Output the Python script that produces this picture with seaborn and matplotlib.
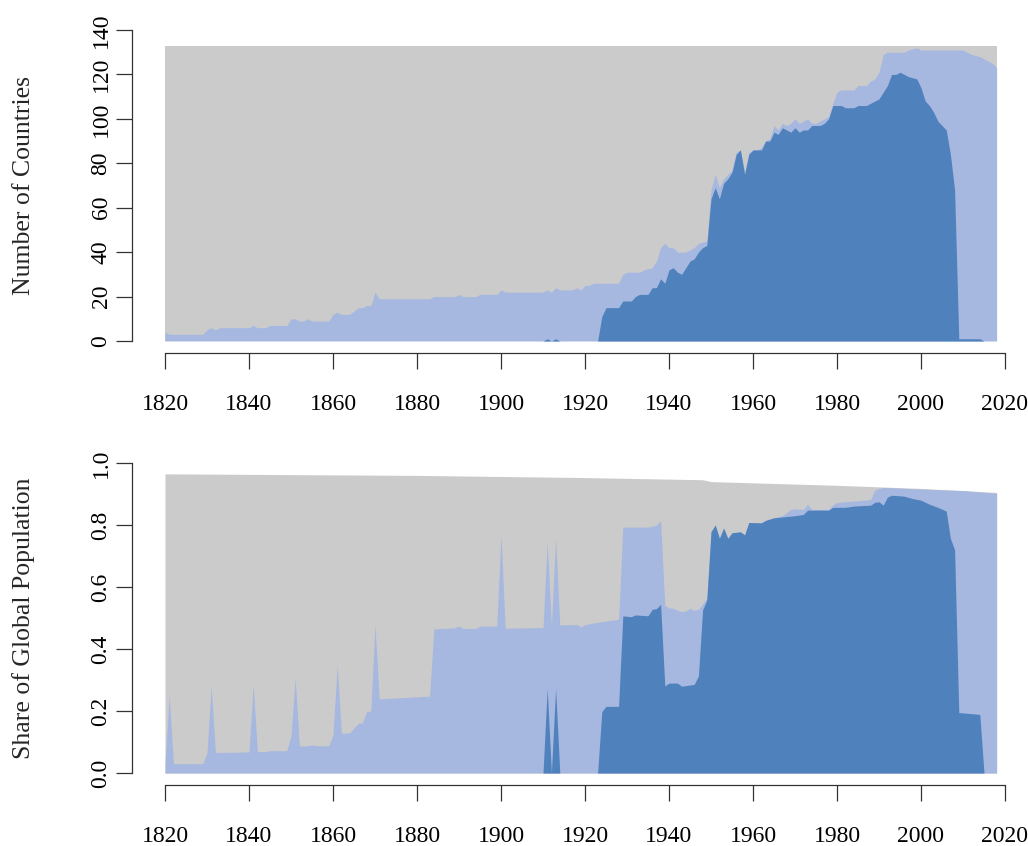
import matplotlib
matplotlib.use("Agg")
import matplotlib.pyplot as plt
import seaborn as sns

# ---- Top panel: number of countries ----
count_total_years = [1820, 2018]
count_total = [133, 133]

count_light_years = [1820, 1821, 1829, 1830, 1831, 1832, 1833, 1840, 1841, 1842, 1844, 1845, 1849,
                     1850, 1851, 1852, 1853, 1854, 1855, 1859, 1860, 1861, 1862, 1864, 1866, 1867,
                     1868, 1869, 1870, 1871, 1883, 1884, 1889, 1890, 1891, 1894, 1895, 1899, 1900,
                     1901, 1910, 1911, 1912, 1913, 1914, 1917, 1918, 1919, 1920, 1921, 1922, 1928,
                     1929, 1930, 1933, 1934, 1936, 1937, 1938, 1939, 1940, 1941, 1942, 1944, 1945,
                     1946, 1947, 1949, 1950, 1951, 1952, 1953, 1954, 1955, 1956, 1957, 1958, 1959,
                     1960, 1961, 1962, 1963, 1964, 1965, 1966, 1967, 1968, 1969, 1970, 1971, 1972,
                     1973, 1974, 1975, 1976, 1977, 1978, 1979, 1980, 1981, 1984, 1985, 1987, 1988,
                     1989, 1990, 1991, 1992, 1996, 1997, 1999, 2000, 2010, 2011, 2012, 2014, 2015,
                     2016, 2017, 2018]
count_light = [4, 3, 3, 5, 6, 5, 6, 6, 7, 6, 6, 7, 7,
               10, 10, 9, 9, 10, 9, 9, 12, 13, 12, 12, 15, 15,
               16, 16, 22, 19, 19, 20, 20, 21, 20, 20, 21, 21, 23,
               22, 22, 23, 22, 24, 23, 23, 24, 23, 25, 25, 26, 26,
               30, 31, 31, 32, 33, 36, 42, 44, 42, 42, 40, 40, 41,
               42, 44, 45, 68, 75, 69, 73, 75, 77, 85, 86, 76, 85,
               86, 86, 87, 90, 91, 97, 95, 98, 97, 98, 100, 98, 99,
               100, 98, 98, 99, 100, 101, 107, 112, 113, 113, 115, 115, 117,
               118, 121, 129, 130, 130, 131, 132, 131, 131, 130, 129, 128, 127,
               126, 125, 123]

count_dark_years = [1820, 1910, 1911, 1912, 1913, 1914, 1923, 1924, 1925, 1928, 1929, 1931, 1932,
                    1933, 1935, 1936, 1937, 1938, 1939, 1940, 1941, 1942, 1943, 1944, 1945, 1946,
                    1947, 1948, 1949, 1950, 1951, 1952, 1953, 1954, 1955, 1956, 1957, 1958, 1959,
                    1960, 1962, 1963, 1964, 1965, 1966, 1967, 1968, 1969, 1970, 1971, 1972, 1973,
                    1974, 1976, 1977, 1978, 1979, 1981, 1982, 1984, 1985, 1987, 1988, 1989, 1990,
                    1991, 1992, 1993, 1994, 1995, 1996, 1997, 1999, 2000, 2001, 2002, 2003, 2004,
                    2005, 2006, 2007, 2008, 2009, 2014, 2015, 2018]
count_dark = [0, 0, 1, 0, 1, 0, 0, 11, 15, 15, 18, 18, 20,
              21, 21, 24, 24, 28, 26, 32, 33, 31, 30, 33, 36, 37,
              40, 42, 43, 64, 69, 64, 71, 73, 76, 84, 86, 75, 84,
              86, 86, 90, 90, 94, 93, 96, 95, 94, 96, 94, 95, 95,
              97, 97, 98, 100, 106, 106, 105, 105, 106, 106, 107, 108, 109,
              112, 115, 120, 120, 121, 120, 119, 118, 114, 108, 106, 103, 99,
              97, 95, 84, 68, 1, 1, 0, 0]

# ---- Bottom panel: share of global population ----
share_total_years = [1820, 1880, 1920, 1948, 1950, 1980, 2000, 2018]
share_total = [0.965, 0.960, 0.953, 0.946, 0.940, 0.928, 0.918, 0.905]

share_light_years = [1820, 1821, 1822, 1829, 1830, 1831, 1832, 1840, 1841, 1842, 1844, 1845, 1849,
                     1850, 1851, 1852, 1854, 1855, 1856, 1859, 1860, 1861, 1862, 1864, 1866, 1867,
                     1868, 1869, 1870, 1871, 1883, 1884, 1889, 1890, 1891, 1894, 1895, 1899, 1900,
                     1901, 1910, 1911, 1912, 1913, 1914, 1917, 1918, 1919, 1920, 1922, 1923, 1928,
                     1929, 1935, 1936, 1937, 1938, 1939, 1940, 1941, 1942, 1943, 1944, 1945, 1946,
                     1947, 1948, 1949, 1950, 1951, 1952, 1953, 1954, 1955, 1957, 1958, 1959, 1962,
                     1963, 1965, 1967, 1969, 1970, 1972, 1973, 1974, 1978, 1979, 1980, 1985, 1988,
                     1989, 1990, 1991, 2000, 2010, 2018]
share_light = [0.03, 0.25, 0.03, 0.03, 0.066, 0.28, 0.066, 0.068, 0.283, 0.069, 0.069, 0.072, 0.072,
               0.12, 0.307, 0.087, 0.088, 0.091, 0.088, 0.088, 0.123, 0.348, 0.128, 0.13, 0.16, 0.162,
               0.198, 0.2, 0.477, 0.239, 0.248, 0.465, 0.468, 0.474, 0.466, 0.466, 0.474, 0.474, 0.768,
               0.467, 0.469, 0.746, 0.474, 0.76, 0.478, 0.478, 0.48, 0.471, 0.478, 0.484, 0.486, 0.496,
               0.793, 0.793, 0.796, 0.8, 0.814, 0.54, 0.533, 0.531, 0.525, 0.52, 0.523, 0.531, 0.525,
               0.528, 0.545, 0.565, 0.78, 0.8, 0.757, 0.79, 0.757, 0.775, 0.778, 0.768, 0.807, 0.807,
               0.815, 0.824, 0.83, 0.85, 0.852, 0.85, 0.867, 0.85, 0.85, 0.865, 0.873, 0.878, 0.882,
               0.913, 0.918, 0.921, 0.916, 0.911, 0.902]

share_dark_years = [1820, 1910, 1911, 1912, 1913, 1914, 1923, 1924, 1925, 1928, 1929, 1931, 1932,
                    1935, 1936, 1937, 1938, 1939, 1940, 1942, 1943, 1946, 1947, 1948, 1949, 1950,
                    1951, 1952, 1953, 1954, 1955, 1957, 1958, 1959, 1962, 1963, 1965, 1967, 1970,
                    1972, 1973, 1978, 1979, 1982, 1984, 1988, 1989, 1990, 1991, 1992, 1993, 1996,
                    1998, 2000, 2002, 2004, 2006, 2007, 2008, 2009, 2014, 2015, 2018]
share_dark = [0, 0, 0.273, 0, 0.273, 0, 0, 0.198, 0.215, 0.215, 0.507, 0.504, 0.51,
              0.507, 0.528, 0.53, 0.544, 0.281, 0.29, 0.29, 0.28, 0.286, 0.313, 0.526, 0.558, 0.778,
              0.8, 0.757, 0.79, 0.757, 0.775, 0.778, 0.768, 0.808, 0.807, 0.815, 0.823, 0.826, 0.83,
              0.834, 0.848, 0.848, 0.857, 0.857, 0.861, 0.864, 0.873, 0.875, 0.864, 0.89, 0.896, 0.893,
              0.885, 0.88, 0.867, 0.857, 0.845, 0.757, 0.72, 0.195, 0.189, 0, 0]

count_yticks = [0, 20, 40, 60, 80, 100, 120, 140]
share_yticks = [0.0, 0.2, 0.4, 0.6, 0.8, 1.0]
year_ticks = list(range(1820, 2021, 20))

GRAY = "#cbcbcb"
LIGHT = "#a6b8e0"
DARK = "#4f81bc"
AXCOL = "#333333"

sns.set_theme(style="white")
plt.rcParams["font.family"] = ["Liberation Serif", "DejaVu Serif"]
plt.rcParams["font.size"] = 17


def draw_panel(ax, series, yticks, ylabels, ylabel, ylim):
    for years, vals, col in series:
        ax.fill_between(years, vals, 0, color=col, linewidth=0)
    ax.set_xlim(1820, 2020)
    ax.set_ylim(*ylim)
    ax.set_xticks(year_ticks)
    ax.set_yticks(yticks)
    ax.set_yticklabels(ylabels)
    for side in ["top", "right"]:
        ax.spines[side].set_visible(False)
    ax.spines["left"].set_position(("outward", 24))
    ax.spines["bottom"].set_position(("outward", 8.6))
    ax.spines["left"].set_bounds(yticks[0], yticks[-1])
    ax.spines["bottom"].set_bounds(1820, 2020)
    for side in ["left", "bottom"]:
        ax.spines[side].set_color(AXCOL)
        ax.spines[side].set_linewidth(0.9)
    ax.tick_params(axis="both", direction="out", length=11.5, width=0.9, color=AXCOL,
                   labelsize=17, labelcolor="black")
    ax.tick_params(axis="x", pad=18, bottom=True)
    ax.tick_params(axis="y", pad=3, left=True, labelrotation=90)
    for lab in ax.get_yticklabels():
        lab.set_va("center")
    ax.set_ylabel(ylabel, fontsize=18.5)
    ax.yaxis.set_label_coords(-0.155, 0.5)
    ax.set_facecolor("white")
    ax.grid(False)


fig = plt.figure(figsize=(10.28, 8.46), dpi=100)
ax1 = fig.add_axes([165 / 1028, (846 - 341) / 846, 840 / 1028, 311 / 846])
ax2 = fig.add_axes([165 / 1028, (846 - 773) / 846, 840 / 1028, 310 / 846])

draw_panel(ax1,
           [(count_total_years, count_total, GRAY),
            (count_light_years, count_light, LIGHT),
            (count_dark_years, count_dark, DARK)],
           count_yticks, [str(v) for v in count_yticks], "Number of Countries", (0, 140))
draw_panel(ax2,
           [(share_total_years, share_total, GRAY),
            (share_light_years, share_light, LIGHT),
            (share_dark_years, share_dark, DARK)],
           share_yticks, [f"{v:.1f}" for v in share_yticks], "Share of Global Population", (0, 1))

fig.savefig("out.png", dpi=100)
